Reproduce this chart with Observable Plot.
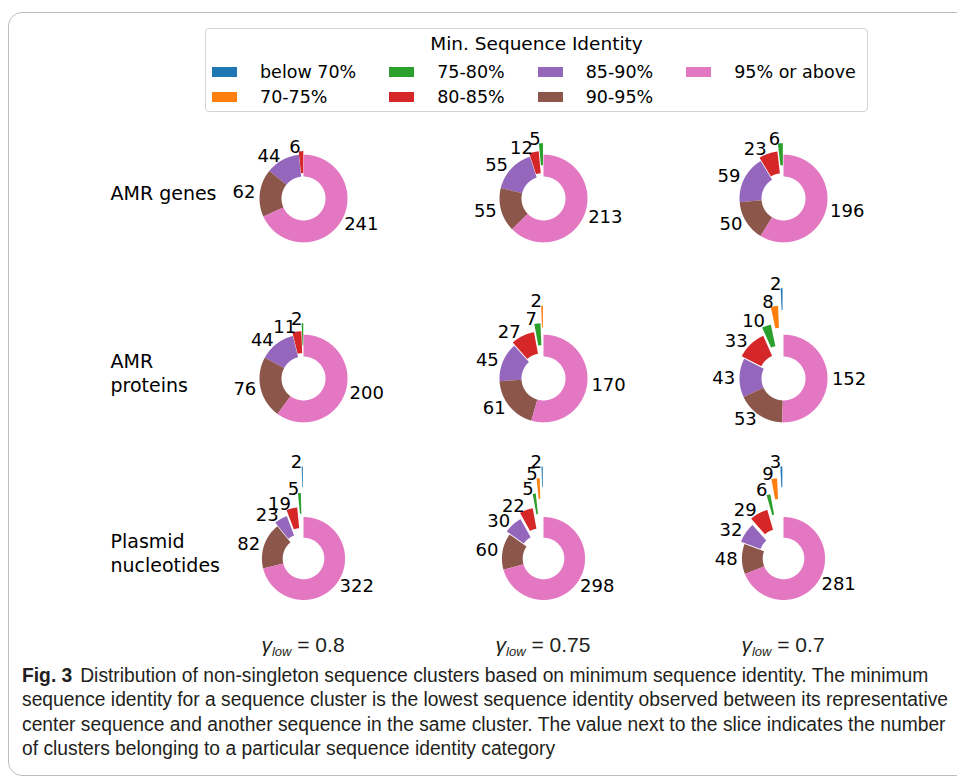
<!DOCTYPE html>
<html>
<head>
<meta charset="utf-8">
<script src="https://cdn.jsdelivr.net/npm/d3@7"></script>
<script src="https://cdn.jsdelivr.net/npm/@observablehq/plot@0.6"></script>
<style>
  html, body { margin: 0; padding: 0; background: #fff; }
  #page { position: relative; width: 957px; height: 778px; overflow: hidden; font-family: "DejaVu Sans", sans-serif; color: #000; }
  #frame { position: absolute; left: 8px; top: 12px; width: 1000px; height: 764px; border: 1.5px solid #bdbdbd; border-radius: 14px; box-sizing: border-box; }
  #legend { position: absolute; left: 205px; top: 28px; width: 663px; height: 84px; border: 1px solid #d4d4d4; border-radius: 4px; box-sizing: border-box; background: #fff; z-index: 2; }
  #legend .title { position: absolute; left: 0; right: 0; top: 4px; text-align: center; font-size: 18.5px; line-height: 22px; }
  #legend .items { position: absolute; left: 6px; top: 30px; display: grid; grid-template-rows: 25px 25px; grid-auto-flow: column; column-gap: 33px; }
  #legend .item { display: flex; align-items: center; font-size: 17.5px; white-space: nowrap; }
  #legend .swatch { width: 25px; height: 10px; margin-right: 23px; }
  #chart { position: absolute; left: 0; top: 107px; z-index: 1; }
  .gamma { position: absolute; top: 632px; width: 200px; text-align: center; font-family: "Liberation Sans Narrow", "Liberation Sans", sans-serif; font-size: 21px; line-height: 26px; color: #231f20; }
  .gamma span { display: inline-block; white-space: nowrap; }
  .gamma sub { font-size: 0.62em; vertical-align: -0.3em; }
  #caption { position: absolute; left: 22px; top: 663px; font-family: "Liberation Sans Narrow", "Liberation Sans", sans-serif; font-size: 19.5px; line-height: 24.3px; color: #231f20; }
  #caption div { white-space: nowrap; transform-origin: 0 50%; }
</style>
</head>
<body>
<div id="page">
  <div id="frame"></div>
  <div id="legend"><div class="title">Min. Sequence Identity</div><div class="items"></div></div>
  <div id="chart"></div>
  <div id="caption"></div>
</div>
<script>
// Identity categories (wedge order, counter-clockwise from 12 o'clock) and their colours
const categories = ["below 70%", "70-75%", "75-80%", "80-85%", "85-90%", "90-95%", "95% or above"];
const colors = ["#1f77b4", "#ff7f0e", "#2ca02c", "#d62728", "#9467bd", "#8c564b", "#e377c2"];

// Rows (datasets) and columns (gamma_low thresholds)
const datasets = ["AMR genes", "AMR\nproteins", "Plasmid\nnucleotides"];
const gammaLabels = ["0.8", "0.75", "0.7"];

// Cluster counts per category, one list per gamma_low column
const amrGenes = [
  [0, 0, 0, 6, 44, 62, 241],
  [0, 0, 5, 12, 55, 55, 213],
  [0, 0, 6, 23, 59, 50, 196]
];
const amrProteins = [
  [0, 0, 2, 11, 44, 76, 200],
  [0, 2, 7, 27, 45, 61, 170],
  [2, 8, 10, 33, 43, 53, 152]
];
const plasmidNucleotides = [
  [2, 0, 5, 19, 23, 82, 322],
  [2, 5, 5, 22, 30, 60, 298],
  [3, 9, 6, 29, 32, 48, 281]
];
const countsByRow = [amrGenes, amrProteins, plasmidNucleotides];

const captionLines = [
  ["Fig. 3", "Distribution of non-singleton sequence clusters based on minimum sequence identity. The minimum"],
  ["", "sequence identity for a sequence cluster is the lowest sequence identity observed between its representative"],
  ["", "center sequence and another sequence in the same cluster. The value next to the slice indicates the number"],
  ["", "of clusters belonging to a particular sequence identity category"]
];

// ---- styling of the donuts ----
const UNIT = 44;              // px per unit radius
const COL_W = 240, ROW_H = 180.5;
const HOLE = 0.5;             // inner radius of the ring
const LABEL_DIST = 1.1;       // label distance from the (shifted) centre
const explodeSmall = [1.06, 0.66, 0.26, 0.08, 0, 0, 0];
const explodeLarge = [1.22, 0.94, 0.58, 0.24, 0.1, 0, 0];
const explodeByRow = [explodeSmall, explodeSmall, explodeLarge];
const radiusByRow = [1, 1, 0.945];

// ---- wedge outlines and value labels ----
const wedgePoints = [];
const wedgeLabels = [];
const pie = d3.pie().sort(null).startAngle(0).endAngle(-2 * Math.PI);
datasets.forEach((row, ri) => {
  countsByRow[ri].forEach((values, ci) => {
    const gamma = gammaLabels[ci];
    const s = radiusByRow[ri];
    pie(values).forEach((a, k) => {
      if (a.value === 0) return;
      const mid = (a.startAngle + a.endAngle) / 2;
      const ex = explodeByRow[ri][k];
      const cx = ex * Math.sin(mid), cy = ex * Math.cos(mid);
      const key = `${ri}-${ci}-${k}`;
      const category = categories[k];
      const span = a.endAngle - a.startAngle;
      const n = Math.max(2, Math.ceil(Math.abs(span) / (Math.PI / 360)));
      const arc = d3.range(n + 1).map(i => a.startAngle + span * i / n);
      for (const t of arc) wedgePoints.push({key, row, gamma, category, x: s * (cx + Math.sin(t)), y: s * (cy + Math.cos(t))});
      for (const t of arc.slice().reverse()) wedgePoints.push({key, row, gamma, category, x: s * (cx + HOLE * Math.sin(t)), y: s * (cy + HOLE * Math.cos(t))});
      const lx = s * (cx + LABEL_DIST * Math.sin(mid));
      const ly = s * (cy + LABEL_DIST * Math.cos(mid));
      wedgeLabels.push({row, gamma, x: lx, y: ly, text: String(a.value), side: lx > 0 ? "start" : "end"});
    });
  });
});

const xr = COL_W / 2 / UNIT, yr = ROW_H / 2 / UNIT;
const marginLeft = 183;
const chart = Plot.plot({
  width: 957,
  height: 3 * ROW_H,
  marginLeft,
  marginRight: 957 - marginLeft - 3 * COL_W,
  marginTop: 0,
  marginBottom: 0,
  x: {domain: [-xr, xr], axis: null},
  y: {domain: [-yr, yr], axis: null},
  fx: {domain: gammaLabels, padding: 0, axis: null},
  fy: {domain: datasets, padding: 0, axis: null},
  color: {domain: categories, range: colors},
  style: {fontFamily: "DejaVu Sans", fontSize: "18px", background: "transparent", color: "black", overflow: "visible"},
  marks: [
    Plot.line(wedgePoints, {x: "x", y: "y", z: "key", fill: "category", stroke: "none", fx: "gamma", fy: "row", curve: "linear-closed"}),
    Plot.text(wedgeLabels.filter(d => d.side === "start"), {x: "x", y: "y", text: "text", fx: "gamma", fy: "row", textAnchor: "start", fontSize: 18, fill: "black"}),
    Plot.text(wedgeLabels.filter(d => d.side === "end"), {x: "x", y: "y", text: "text", fx: "gamma", fy: "row", textAnchor: "end", fontSize: 18, fill: "black"}),
    Plot.text(datasets, {text: d => d, fy: d => d, fx: () => gammaLabels[0], frameAnchor: "left", dx: -73, dy: -6, textAnchor: "start", fontSize: 19, lineHeight: 1.25, fill: "black"})
  ]
});
document.getElementById("chart").appendChild(chart);

// ---- legend (column-wise, 4 columns x 2 rows) ----
const items = d3.select("#legend .items");
categories.forEach((c, i) => {
  const it = items.append("div").attr("class", "item");
  it.append("div").attr("class", "swatch").style("background", colors[i]);
  it.append("span").text(c);
});

// ---- gamma_low labels under each column ----
const page = document.getElementById("page");
const fxScale = chart.scale("fx");
const gammaEls = gammaLabels.map(g => {
  const cx = fxScale.apply(g) + fxScale.bandwidth / 2;
  const d = document.createElement("div");
  d.className = "gamma";
  d.style.left = (cx - 100) + "px";
  d.innerHTML = `<span><i>γ</i><sub><i>low</i></sub> = ${g}</span>`;
  page.appendChild(d);
  return d;
});

// ---- caption ----
const cap = document.getElementById("caption");
const capDivs = captionLines.map(([bold, rest]) => {
  const d = document.createElement("div");
  if (bold) {
    const b = document.createElement("b");
    b.textContent = bold;
    b.style.marginRight = "8px";
    d.appendChild(b);
  }
  d.appendChild(document.createTextNode(rest));
  cap.appendChild(d);
  return d;
});
// condense the caption type to the column width
const w2 = capDivs[1].getBoundingClientRect().width;
const squeeze = 926 / w2;
capDivs.forEach(d => { d.style.transform = `scaleX(${squeeze})`; });
gammaEls.forEach(d => {
  const sp = d.querySelector("span");
  sp.style.transform = `scaleX(${Math.min(1, squeeze * 1.05)})`;
});
</script>
</body>
</html>
